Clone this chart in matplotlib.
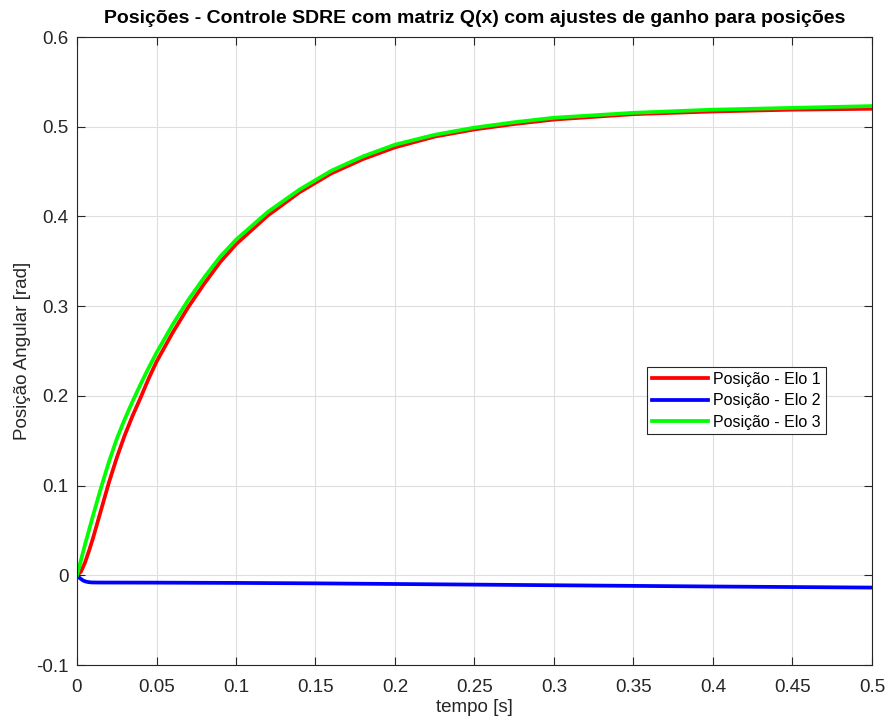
import matplotlib
matplotlib.use('Agg')
import matplotlib.pyplot as plt

plt.rcParams['font.family'] = ['Liberation Sans', 'DejaVu Sans']

# values
t_elo = [0, 0.0025, 0.005, 0.0075, 0.01, 0.015, 0.02, 0.025, 0.03, 0.035, 0.04, 0.045, 0.05, 0.06,
         0.07, 0.08, 0.09, 0.10, 0.12, 0.14, 0.16, 0.18, 0.20, 0.225, 0.25, 0.275, 0.30, 0.35,
         0.40, 0.45, 0.50]
elo1 = [0, 0.004, 0.014, 0.027, 0.041, 0.072, 0.103, 0.131, 0.156, 0.178, 0.198, 0.219, 0.238, 0.270,
        0.299, 0.325, 0.349, 0.369, 0.401, 0.427, 0.448, 0.464, 0.477, 0.489, 0.497, 0.503, 0.508,
        0.514, 0.517, 0.519, 0.520]
elo3 = [0, 0.017, 0.034, 0.050, 0.066, 0.097, 0.126, 0.152, 0.174, 0.194, 0.213, 0.231, 0.248, 0.279,
        0.307, 0.332, 0.355, 0.374, 0.405, 0.430, 0.451, 0.467, 0.480, 0.491, 0.499, 0.505, 0.510,
        0.5155, 0.519, 0.521, 0.523]

t_elo2 = [0, 0.002, 0.004, 0.006, 0.008, 0.01, 0.015, 0.02, 0.05, 0.1, 0.15, 0.2, 0.25,
          0.3, 0.35, 0.4, 0.45, 0.5]
elo2 = [0, -0.0035, -0.006, -0.0072, -0.0078, -0.008, -0.0081, -0.0081, -0.0082, -0.0085,
        -0.0090, -0.0097, -0.0104, -0.0111, -0.0118, -0.0125, -0.0131, -0.0137]

labels = ['Posição - Elo 1', 'Posição - Elo 2', 'Posição - Elo 3']
xticks = [0, 0.05, 0.1, 0.15, 0.2, 0.25, 0.3, 0.35, 0.4, 0.45, 0.5]
xticklabels = ['0', '0.05', '0.1', '0.15', '0.2', '0.25', '0.3', '0.35', '0.4', '0.45', '0.5']
yticks = [-0.1, 0, 0.1, 0.2, 0.3, 0.4, 0.5, 0.6]
yticklabels = ['-0.1', '0', '0.1', '0.2', '0.3', '0.4', '0.5', '0.6']

axcol = '#262626'

fig = plt.figure(figsize=(8.87, 7.22), dpi=100)
ax = fig.add_axes([77 / 887, 57 / 722, 795 / 887, 628 / 722])

ax.plot(t_elo, elo1, color='#ff0000', lw=2.7, label=labels[0])
ax.plot(t_elo2, elo2, color='#0000ff', lw=2.7, label=labels[1])
ax.plot(t_elo, elo3, color='#00ff00', lw=2.7, label=labels[2])

ax.set_xlim(0, 0.5)
ax.set_ylim(-0.1, 0.6)
ax.set_xticks(xticks)
ax.set_xticklabels(xticklabels)
ax.set_yticks(yticks)
ax.set_yticklabels(yticklabels)
ax.grid(True, color='#dedede', lw=0.8)
ax.set_axisbelow(True)

for s in ax.spines.values():
    s.set_color(axcol)
    s.set_linewidth(0.8)
ax.tick_params(direction='in', top=True, right=True, length=6, width=0.8,
               colors=axcol, labelsize=13.5, labelcolor=axcol)
ax.tick_params(axis='x', pad=10)
ax.tick_params(axis='y', pad=6)

ax.set_title('Posições - Controle SDRE com matriz Q(x) com ajustes de ganho para posições',
             fontsize=14, fontweight='bold', color='black', pad=10)
ax.set_xlabel('tempo [s]', fontsize=13.5, color=axcol, labelpad=2)
ax.set_ylabel('Posição Angular [rad]', fontsize=13.5, color=axcol, labelpad=4)

leg = ax.legend(loc='upper left', bbox_to_anchor=(0.717, 0.4745), fontsize=11.5,
                fancybox=False, framealpha=1, edgecolor=axcol, borderpad=0.3,
                labelspacing=0.4, handlelength=3.5, handletextpad=0.35, borderaxespad=0)
leg.get_frame().set_linewidth(0.8)

fig.savefig('out.png', dpi=100)
